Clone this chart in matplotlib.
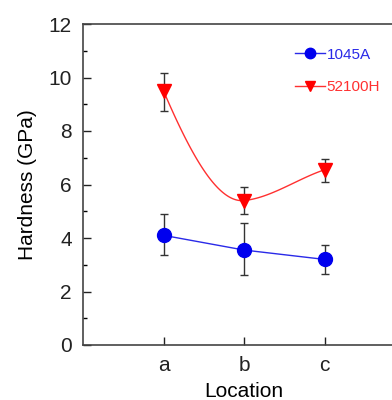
import matplotlib
matplotlib.use("Agg")
from matplotlib import pyplot as plt
import numpy as np

plt.rcParams['font.family'] = ['Liberation Sans', 'DejaVu Sans']

locations = ["a", "b", "c"]
x_pos = [1, 2, 3]

h1045 = [4.1, 3.55, 3.2]
h1045_lo = [3.35, 2.6, 2.65]
h1045_hi = [4.9, 4.55, 3.75]

h52100 = [9.5, 5.4, 6.55]
h52100_lo = [8.75, 4.9, 6.1]
h52100_hi = [10.15, 5.9, 6.95]


def smooth_curve(xs, ys, slopes, n=60):
    # cubic Hermite pieces through the points, only used to draw the curve
    xx, yy = [], []
    for i in range(len(xs) - 1):
        h = xs[i + 1] - xs[i]
        t = np.linspace(0, 1, n)
        h00 = 2 * t ** 3 - 3 * t ** 2 + 1
        h10 = t ** 3 - 2 * t ** 2 + t
        h01 = -2 * t ** 3 + 3 * t ** 2
        h11 = t ** 3 - t ** 2
        s = h00 * ys[i] + h10 * h * slopes[i] + h01 * ys[i + 1] + h11 * h * slopes[i + 1]
        xx.extend(xs[i] + t * h)
        yy.extend(s)
    return np.array(xx), np.array(yy)


fig = plt.figure(figsize=(3.92, 4), dpi=100)
ax = fig.add_axes([83 / 392, 55 / 400, 322 / 392, 321 / 400])

err1 = [np.subtract(h1045, h1045_lo), np.subtract(h1045_hi, h1045)]
err2 = [np.subtract(h52100, h52100_lo), np.subtract(h52100_hi, h52100)]

ax.errorbar(x_pos, h1045, yerr=err1, fmt="none", ecolor="#333333", elinewidth=1, capsize=3, capthick=1)
ax.errorbar(x_pos, h52100, yerr=err2, fmt="none", ecolor="#333333", elinewidth=1, capsize=3, capthick=1)

ax.plot(x_pos, h1045, color="#2a2ae8", lw=1, marker="o", ms=10, mfc="#0000ee", mec="#0000ee", label="1045A")
sx, sy = smooth_curve(x_pos, h52100, [-7.0, 0.3, 1.0])
ax.plot(sx, sy, color="#ff3030", lw=1)
ax.plot(x_pos, h52100, ls="none", marker="v", ms=10, mfc="#ff0000", mec="#ff0000")
ax.plot([], [], color="#ff3030", lw=1, marker="v", ms=10, mfc="#ff0000", mec="#ff0000", label="52100H")

ax.set_xlim(0, 4)
ax.set_ylim(0, 12)
ax.set_xticks(x_pos)
ax.set_xticklabels(locations)
ax.set_yticks(range(0, 13, 2))
ax.set_yticks(range(1, 12, 2), minor=True)
ax.tick_params(direction="in", labelsize=15, length=6, width=1, colors="#222222", pad=8)
ax.tick_params(which="minor", direction="in", length=3, width=1)
for sp in ax.spines.values():
    sp.set_color("#444444")
    sp.set_linewidth(1.2)

ax.set_xlabel("Location", fontsize=15, labelpad=5)
ax.set_ylabel("Hardness (GPa)", fontsize=15, labelpad=8)

leg = ax.legend(loc="upper left", bbox_to_anchor=(281 / 392, 1 - 34 / 400), bbox_transform=fig.transFigure,
                frameon=False, fontsize=11, handlelength=2.0, handletextpad=0.1,
                labelspacing=1.2, labelcolor="linecolor", markerscale=0.75)

fig.savefig("out.png", dpi=100)
